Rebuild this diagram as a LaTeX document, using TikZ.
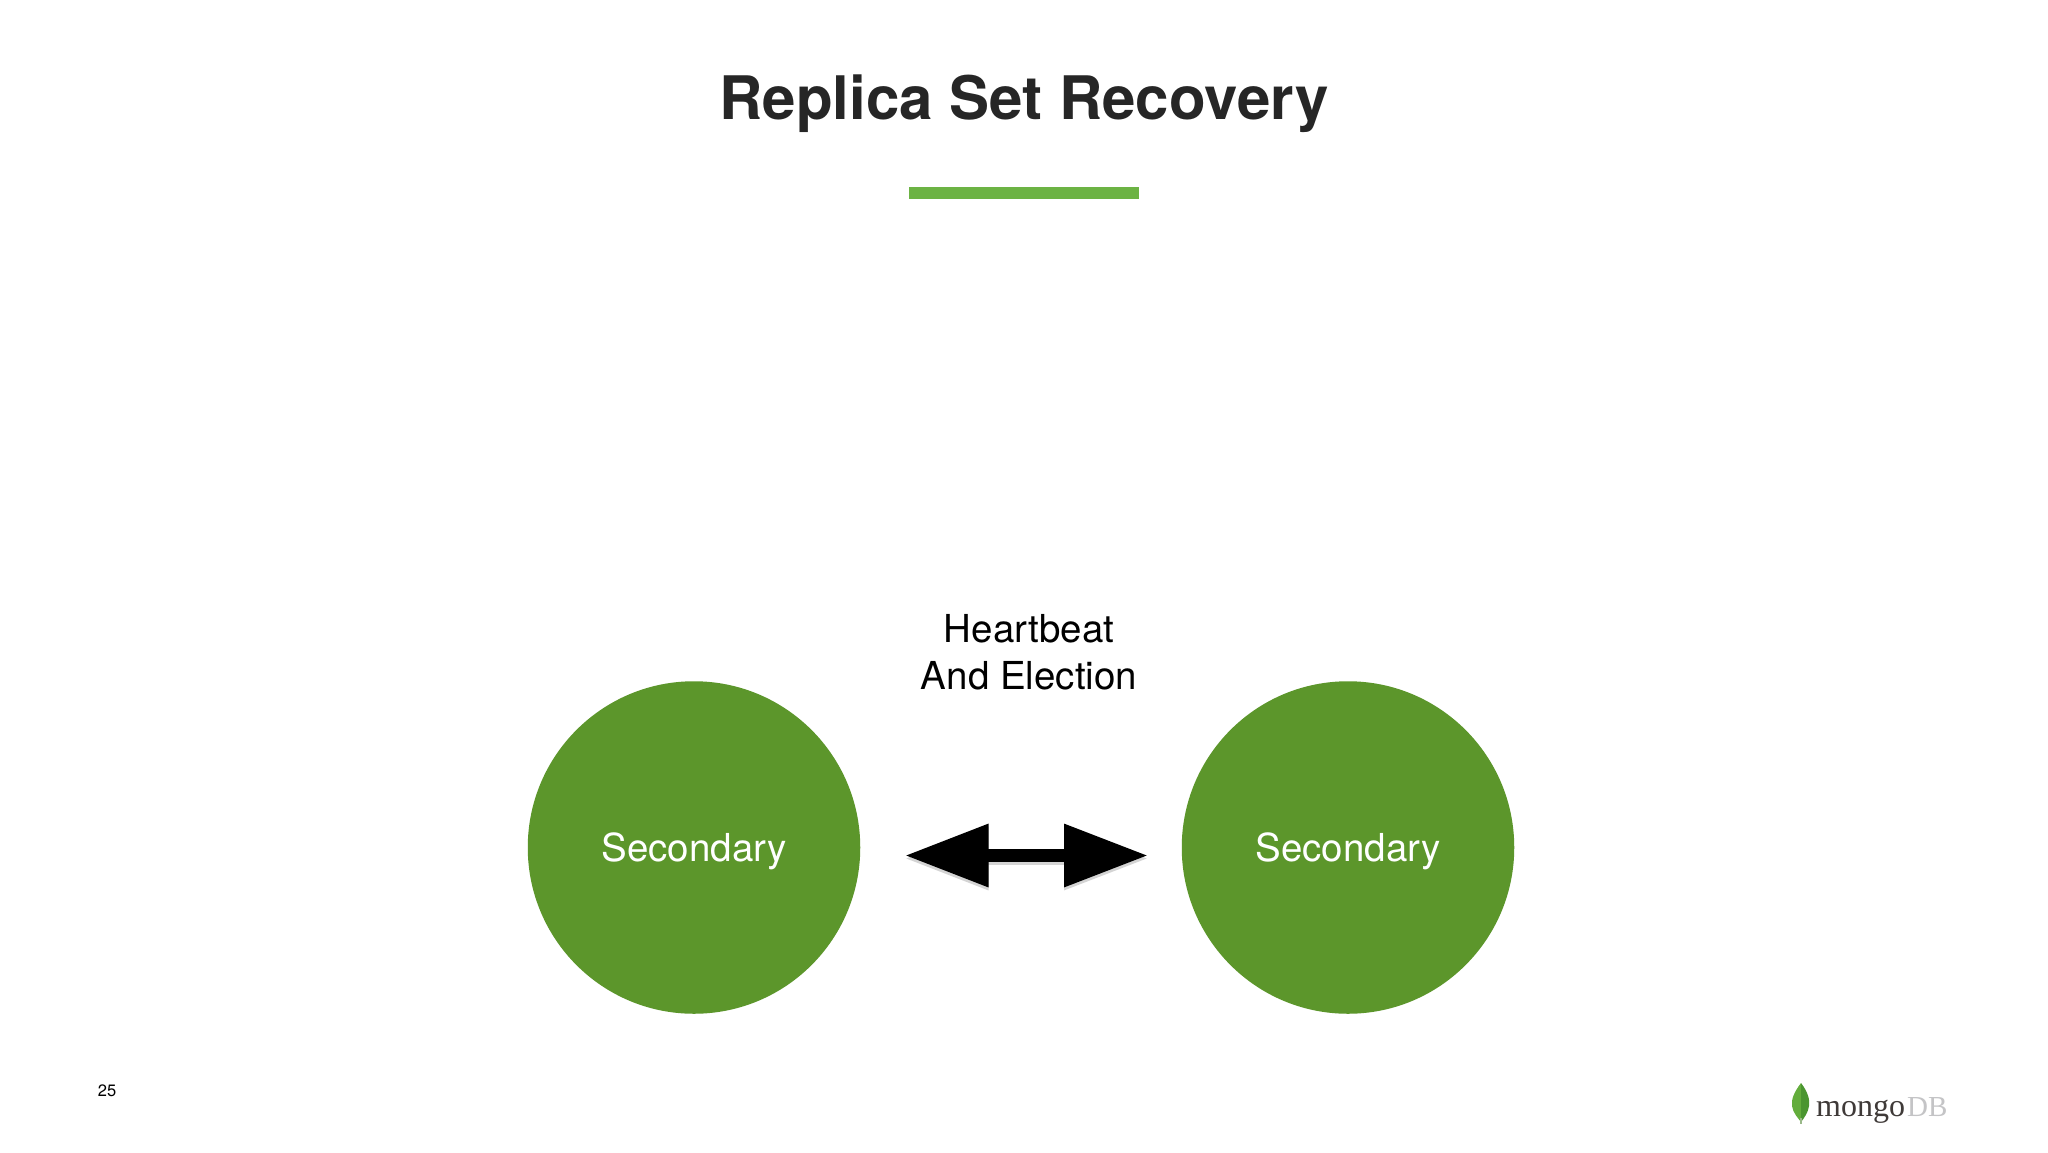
\documentclass[tikz,border=0pt]{standalone}
\usepackage{fontspec}
\setmainfont{TeX Gyre Heros}
\newfontfamily\serifleaf{Liberation Serif}
\usetikzlibrary{arrows.meta}
\definecolor{titlecol}{HTML}{262626}
\definecolor{barcol}{HTML}{6CB344}
\definecolor{circcol}{HTML}{5C962B}
\definecolor{leafa}{HTML}{63AD3C}
\definecolor{leafb}{HTML}{4A9530}
\definecolor{mongocol}{HTML}{3F3A38}
\definecolor{dbcol}{HTML}{C4C4C6}
\tikzset{
  x=1pt,y=-1pt,
  member/.style={circle,fill=circcol,minimum size=332.5pt,inner sep=0pt,text=white,font=\fontsize{38.5}{46}\selectfont},
  duplex/.style={line width=13pt,{Triangle[length=83.5pt,width=60pt]}-{Triangle[length=84pt,width=60pt]}},
  duplexshade/.style={line width=13pt,black!55,opacity=.3,{Triangle[length=83.5pt,width=60pt]}-{Triangle[length=84pt,width=60pt]}},
}
\begin{document}
\begin{tikzpicture}
\useasboundingbox (0,0) rectangle (2048,1152);
\fill[white] (0,0) rectangle (2048,1152);
\node (title) at (1024,104) {\fontsize{60}{72}\selectfont\bfseries\color{titlecol}Replica Set Recovery};
\fill[barcol] (908.5,187) rectangle (1139,199);
\node[member] (left) at (694,847.5) {\raisebox{-14pt}[0pt][0pt]{Secondary}};
\node[member] (right) at (1348,847.5) {\raisebox{-14pt}[0pt][0pt]{Secondary}};
\node[align=center,font=\fontsize{38.5}{46.5}\selectfont] (hb) at (1029,652) {Heartbeat\\And Election};
\coordinate (al) at (905,855.5);
\coordinate (ar) at (1148,855.5);
\coordinate (als) at (905,858.5);
\coordinate (ars) at (1148,858.5);
\draw[duplexshade] (als) -- (ars);
\draw[duplex] (al) -- (ar);
\node[font=\fontsize{16.5}{20}\selectfont] (page) at (107,1091) {25};
% leaf
\fill[leafa] (1801,1083) .. controls (1794,1092) and (1791,1100) .. (1792,1106) .. controls (1793,1113) and (1798,1118) .. (1801,1122) -- cycle;
\fill[leafb] (1801,1083) .. controls (1808,1092) and (1810,1100) .. (1809,1106) .. controls (1808,1113) and (1804,1118) .. (1801,1122) -- cycle;
\draw[leafa!60!gray!70,line width=1.2pt] (1801,1118) -- (1801,1124);
\node[anchor=base west,inner sep=0pt,font=\serifleaf\fontsize{32}{36}\selectfont,text=mongocol] (mongo) at (1816,1116) {mongo};
\node[anchor=base west,inner sep=0pt,font=\serifleaf\fontsize{29}{36}\selectfont,text=dbcol] (db) at (1907,1116) {DB};
\end{tikzpicture}
\end{document}
